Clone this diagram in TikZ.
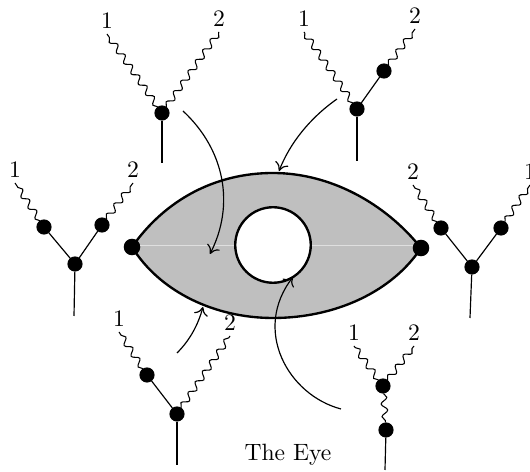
\documentclass[tikz,border=0pt]{standalone}
\usepackage{amsmath}
\usetikzlibrary{arrows.meta,positioning,decorations.pathmorphing}

\begin{document}
\begin{tikzpicture}[x=0.4237pt, y=-0.4237pt, node distance=1pt, font=\normalsize,
    dot/.style={circle, fill=black, draw=black, minimum size=6pt, inner sep=0pt},
    lab/.style={inner sep=1pt},
    wig/.style={decorate, decoration={snake, segment length=5.4pt, amplitude=1.3pt}, line width=0.45pt},
    leg/.style={line width=0.5pt},
    eye/.style={line width=1pt, fill=gray!50},
    seam/.style={gray!25, line width=0.4pt},
    pointer/.style={-{To[length=3.5pt, width=6pt]}, line width=0.5pt}]
  \useasboundingbox (0,0) rectangle (530,472);

  % the eye
  \draw[eye] (132,247) node[dot] (eyeL) {}
    .. controls (165,200) and (215,173) .. (273,173)
    .. controls (330,173) and (385,203) .. (421,248) node[dot] (eyeR) {}
    .. controls (392,292) and (335,318) .. (273,318)
    .. controls (215,318) and (160,292) .. (132,247) -- cycle;
  \node[circle, draw, fill=white, line width=1pt, minimum size=32pt, inner sep=0pt] (hole) at (273,245) {};
  \draw[seam] (eyeL.east |- hole.west) -- (hole.west);
  \draw[seam] (hole.east) -- (eyeR.west |- hole.east);

  % top left
  \node[dot] (tlv) at (162,113) {};
  \coordinate (tls) at (162,163);
  \coordinate (tla) at (107,34);
  \coordinate (tlb) at (219,32);
  \node[lab, above=of tla] (tll1) {1};
  \node[lab, above=of tlb] (tll2) {2};
  \draw[wig] (tlv) -- (tla);
  \draw[wig] (tlv) -- (tlb);
  \draw[leg] (tlv) -- (tls);

  % top right
  \node[dot] (trv) at (357,109) {};
  \node[dot] (trd) at (384,71) {};
  \coordinate (trs) at (357,161);
  \coordinate (tra) at (304,32);
  \coordinate (trb) at (415,29);
  \node[lab, above=of tra] (trl1) {1};
  \node[lab, above=of trb] (trl2) {2};
  \draw[wig] (trv) -- (tra);
  \draw[wig] (trd) -- (trb);
  \draw[leg] (trv) -- (trd);
  \draw[leg] (trv) -- (trs);

  % left
  \node[dot] (lv) at (75,264) {};
  \node[dot] (la) at (44,227) {};
  \node[dot] (lb) at (102,225) {};
  \coordinate (ls) at (74,316);
  \coordinate (lae) at (15,183);
  \coordinate (lbe) at (133,183);
  \node[lab, above=of lae] (ll1) {1};
  \node[lab, above=of lbe] (ll2) {2};
  \draw[wig] (la) -- (lae);
  \draw[wig] (lb) -- (lbe);
  \draw[leg] (lv) -- (la);
  \draw[leg] (lv) -- (lb);
  \draw[leg] (lv) -- (ls);

  % right
  \node[dot] (rv) at (472,267) {};
  \node[dot] (ra) at (441,228) {};
  \node[dot] (rb) at (501,228) {};
  \coordinate (rs) at (470,318);
  \coordinate (rae) at (413,185);
  \coordinate (rbe) at (530,185);
  \node[lab, above=of rae] (rl2) {2};
  \node[lab, above=of rbe] (rl1) {1};
  \draw[wig] (ra) -- (rae);
  \draw[wig] (rb) -- (rbe);
  \draw[leg] (rv) -- (ra);
  \draw[leg] (rv) -- (rb);
  \draw[leg] (rv) -- (rs);

  % bottom left
  \node[dot] (blv) at (177,414) {};
  \node[dot] (bld) at (147,375) {};
  \coordinate (bls) at (177,465);
  \coordinate (bla) at (119,332);
  \coordinate (blb) at (230,336);
  \node[lab, above=of bla] (bll1) {1};
  \node[lab, above=of blb] (bll2) {2};
  \draw[wig] (bld) -- (bla);
  \draw[wig] (blv) -- (blb);
  \draw[leg] (blv) -- (bld);
  \draw[leg] (blv) -- (bls);

  % bottom right
  \node[dot] (brv) at (383,386) {};
  \node[dot] (brd) at (386,430) {};
  \coordinate (brs) at (385,470);
  \coordinate (bra) at (354,346);
  \coordinate (brb) at (414,346);
  \node[lab, above=of bra] (brl1) {1};
  \node[lab, above=of brb] (brl2) {2};
  \draw[wig] (brv) -- (bra);
  \draw[wig] (brv) -- (brb);
  \draw[wig] (brv) -- (brd);
  \draw[leg] (brd) -- (brs);

  \node (title) at (288,455) {The Eye};

  % pointers
  \coordinate (p1a) at (183,111);
  \coordinate (p1b) at (210,254);
  \coordinate (p2a) at (337,99);
  \coordinate (p2b) at (279,171);
  \coordinate (p3a) at (177,353);
  \coordinate (p3b) at (203,307);
  \coordinate (p4a) at (341,409);
  \coordinate (p4b) at (293,277);
  \draw[pointer] (p1a) .. controls (225,150) and (235,205) .. (p1b);
  \draw[pointer] (p2a) .. controls (310,118) and (290,143) .. (p2b);
  \draw[pointer] (p3a) .. controls (190,340) and (198,325) .. (p3b);
  \draw[pointer] (p4a) .. controls (288,395) and (252,330) .. (p4b);
\end{tikzpicture}
\end{document}
